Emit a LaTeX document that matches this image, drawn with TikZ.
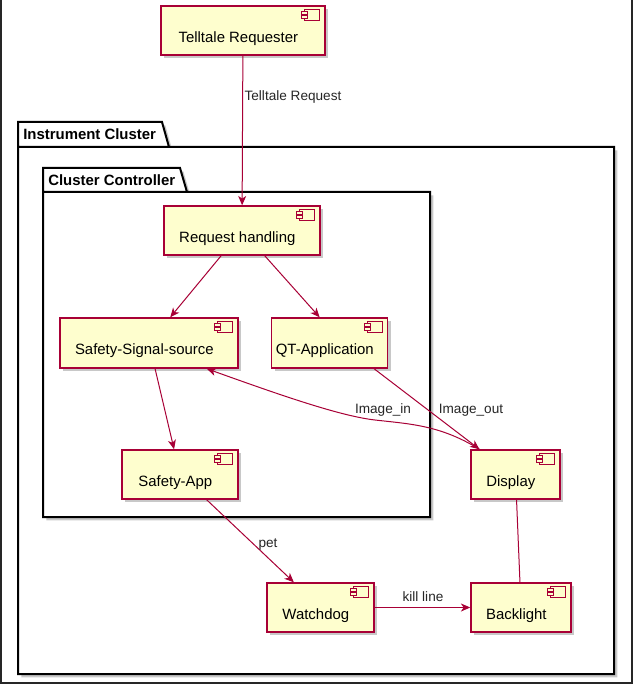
\documentclass[tikz,border=0pt]{standalone}
\usepackage{fontspec}
\setmainfont{Liberation Sans}
\usepackage{tikz}
\usetikzlibrary{arrows.meta, shadows}
\definecolor{umlred}{HTML}{A80036}
\definecolor{umlfill}{HTML}{FEFECE}
\definecolor{framegray}{HTML}{262626}

\newcommand{\compicon}[1]{%
  \draw[umlred, fill=umlfill, line width=0.9pt] ([shift={(-21,4)}]#1.north east) rectangle ([shift={(-6,15)}]#1.north east);
  \draw[umlred, fill=umlfill, line width=0.8pt] ([shift={(-24,6.5)}]#1.north east) rectangle ([shift={(-18,9.5)}]#1.north east);
  \draw[umlred, fill=umlfill, line width=0.8pt] ([shift={(-24,10.5)}]#1.north east) rectangle ([shift={(-18,13.5)}]#1.north east);
}

\begin{document}
\begin{tikzpicture}[x=0.75pt, y=-0.75pt, font=\fontsize{11.2}{13}\selectfont,
  comp/.style={draw=umlred, fill=umlfill, line width=1.1pt, minimum height=36.75pt, text height=17.5pt, text depth=0pt, execute at end node={\hspace{7pt}}, drop shadow={shadow xshift=2.5pt, shadow yshift=-2.5pt, opacity=0.3, fill=black!70}},
  pkg/.style={draw=black, fill=white, line width=1.5pt, drop shadow={shadow xshift=2.5pt, shadow yshift=-2.5pt, opacity=0.3, fill=black!70}},
  pkglbl/.style={font=\fontsize{11.2}{13}\selectfont\bfseries, anchor=west, inner sep=0pt},
  arr/.style={-{Stealth[length=7pt, width=6pt, inset=2pt]}, draw=umlred, line width=0.75pt},
  lbl/.style={font=\fontsize{10.2}{12}\selectfont, text=black!85, inner sep=1pt}]
\useasboundingbox (0,0) rectangle (633,684);
\draw[pkg] (18,147) -- (18,122) -- (162,122) -- (169,147) -- cycle (18,147) rectangle (614,674);
\node[pkglbl] (icluster) at (23,134.5) {Instrument Cluster};
\draw[pkg] (43,192) -- (43,168) -- (180,168) -- (187,192) -- cycle (43,192) rectangle (430,517);
\node[pkglbl] (ccontroller) at (48,180) {Cluster Controller};

\node[comp, minimum width=123pt] (treq) at (243,30.5) {Telltale Requester};
\node[comp, minimum width=117pt] (rhandle) at (242,230.5) {Request handling};
\node[comp, minimum width=133.5pt, minimum height=37.5pt] (ssource) at (149,343) {Safety-Signal-source};
\node[comp, minimum width=83.25pt, minimum height=37.5pt] (qtapp) at (329.5,343) {QT-Application};
\node[comp, minimum width=87pt] (sapp) at (180,474.5) {Safety-App};
\node[comp, minimum width=66.75pt] (display) at (515.5,474.5) {Display};
\node[comp, minimum width=80.25pt] (watchdog) at (320.5,607.5) {Watchdog};
\node[comp, minimum width=75pt] (backlight) at (521,607.5) {Backlight};
\foreach \n in {treq, rhandle, ssource, qtapp, sapp, display, watchdog, backlight} {\compicon{\n}}

\draw[arr] (treq) -- (rhandle);
\node[lbl, anchor=west] (lblreq) at (243,97) {Telltale Request};
\draw[arr] (rhandle) -- (ssource);
\draw[arr] (rhandle.-48) -- (qtapp.111);
\draw[arr] (ssource) -- (sapp);
\draw[arr] (qtapp.-30) -- (display.145);
\draw[arr] (display.145) .. controls (440,425) and (410,424) .. (375,420) .. controls (340,416) and (280,395) .. (ssource.-24);
\node[lbl] (lblin) at (383,410) {Image\_in};
\node[lbl] (lblout) at (471,410) {Image\_out};
\draw[arr] (sapp) -- (watchdog);
\node[lbl] (lblpet) at (268,545) {pet};
\draw[arr] (watchdog) -- (backlight);
\node[lbl] (lblkill) at (423,597) {kill line};
\draw[umlred, line width=0.75pt] (display) -- (backlight);

\draw[framegray, line width=1.5pt] (1,0) -- (1,682.5) -- (631.5,682.5) -- (631.5,0);
\end{tikzpicture}
\end{document}
